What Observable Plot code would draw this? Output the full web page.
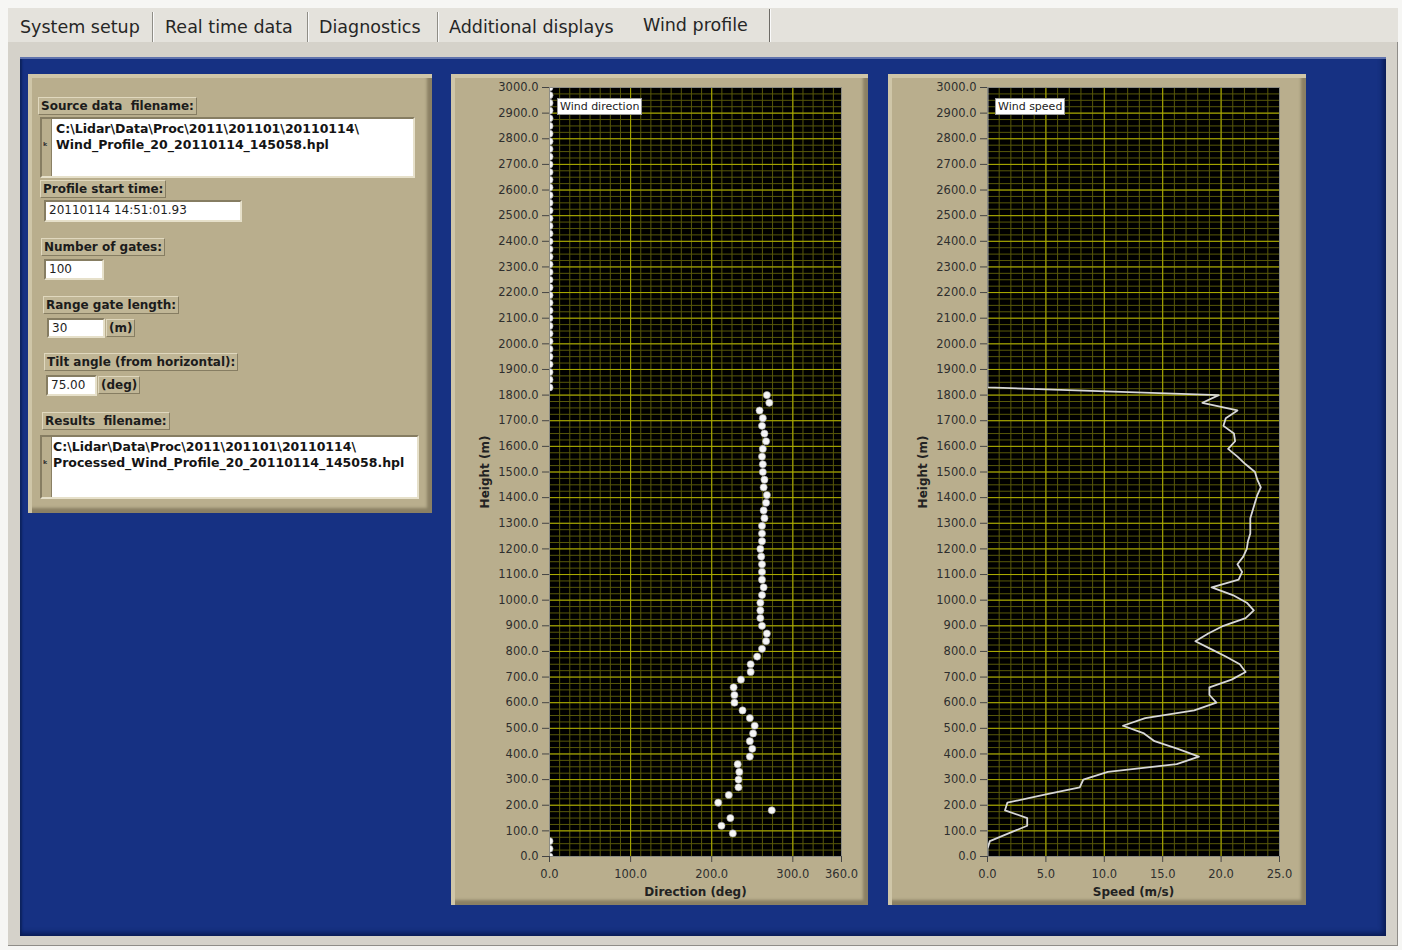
<!DOCTYPE html>
<html><head><meta charset="utf-8">
<script src="https://cdn.jsdelivr.net/npm/d3@7"></script>
<script src="https://cdn.jsdelivr.net/npm/@observablehq/plot@0.6"></script>
<style>
body{margin:0;background:#f6f6f4;font-family:"DejaVu Sans",Verdana,sans-serif;}
#app{position:relative;width:1402px;height:950px;overflow:hidden;}
.abs{position:absolute;}
.tabbar{left:8px;top:8px;width:1390px;height:34px;background:#e4e2dc;}
.tab{position:absolute;top:17px;font-size:17.5px;color:#262626;white-space:nowrap;}
.sep{position:absolute;top:12px;width:1px;height:30px;background:#8f8d86;border-right:1px solid #fafafa;}
.frame{left:8px;top:42px;width:1390px;height:904px;background:#d5d2ca;box-shadow:inset -1px -1px 0 #8f8d88;}
.blue{left:20px;top:57px;width:1366px;height:879px;background:#163183;box-shadow:inset 0 2px 0 #6073ad, inset -3px -3px 5px #0a1c55, inset 2px 0 2px #0e245f;}
.panel{background:#b9ae8d;box-shadow:inset 4px 4px 0 #cfc6a8, inset -5px -5px 3px #8a8064;}
.lbl{position:absolute;font-size:12px;font-weight:bold;color:#1c1c1c;background:#c0b696;border:1px solid;border-color:#e0d8be #867d62 #867d62 #e0d8be;padding:0 2px;height:16px;line-height:16px;white-space:pre;}
.box{position:absolute;background:#fff;border:2px solid;border-color:#867d62 #e6e0ca #e6e0ca #867d62;font-size:12px;color:#1e1e1e;line-height:17px;padding-left:3px;box-sizing:border-box;white-space:pre;}
.path{position:absolute;background:#fff;border:2px solid;border-color:#867d62 #e6e0ca #e6e0ca #867d62;box-sizing:border-box;}
.path .strip{position:absolute;left:0;top:0;bottom:0;width:9px;background:#b9ae8d;border-right:1px solid #8a8064;}
.path .ico{position:absolute;left:1px;font-size:10px;font-weight:bold;color:#333;}
.path .txt{position:absolute;font-size:12.5px;font-weight:bold;color:#141414;line-height:16px;white-space:pre;}
.legend{position:absolute;background:#fff;border:1px solid #9a9a9a;font-size:11px;color:#222;height:15px;line-height:15px;padding:0 2px;white-space:nowrap;}
.chart{position:absolute;}
</style>
</head><body>
<div id="app">
  <div class="abs tabbar"></div>
  <div class="tab" style="left:20px">System setup</div>
  <div class="sep" style="left:152px"></div>
  <div class="tab" style="left:165px">Real time data</div>
  <div class="sep" style="left:307px"></div>
  <div class="tab" style="left:319px">Diagnostics</div>
  <div class="sep" style="left:437px"></div>
  <div class="tab" style="left:449px">Additional displays</div>
  <div class="tab" style="left:643px;top:15px">Wind profile</div>
  <div class="sep" style="left:769px;top:9px;height:34px;background:#6d6b66"></div>

  <div class="abs frame"></div>
  <div class="abs blue"></div>

  <div class="abs panel" style="left:28px;top:74px;width:404px;height:439px"></div>
  <div class="lbl" style="left:38px;top:97px">Source data  filename:</div>
  <div class="path" style="left:40px;top:117px;width:375px;height:61px">
    <div class="strip"></div><div class="ico" style="top:22px">&#x1D4F;</div>
    <div class="txt" style="left:14px;top:2px">C:\Lidar\Data\Proc\2011\201101\20110114\</div>
    <div class="txt" style="left:14px;top:18px">Wind_Profile_20_20110114_145058.hpl</div>
  </div>
  <div class="lbl" style="left:40px;top:180px">Profile start time:</div>
  <div class="box" style="left:44px;top:200px;width:198px;height:22px">20110114 14:51:01.93</div>
  <div class="lbl" style="left:41px;top:238px">Number of gates:</div>
  <div class="box" style="left:44px;top:259px;width:60px;height:21px">100</div>
  <div class="lbl" style="left:43px;top:296px">Range gate length:</div>
  <div class="box" style="left:47px;top:318px;width:58px;height:20px">30</div>
  <div class="lbl" style="left:106px;top:319px">(m)</div>
  <div class="lbl" style="left:44px;top:353px">Tilt angle (from horizontal):</div>
  <div class="box" style="left:46px;top:375px;width:51px;height:21px">75.00</div>
  <div class="lbl" style="left:98px;top:376px">(deg)</div>
  <div class="lbl" style="left:42px;top:412px">Results  filename:</div>
  <div class="path" style="left:40px;top:435px;width:379px;height:64px">
    <div class="strip"></div><div class="ico" style="top:22px">&#x1D4F;</div>
    <div class="txt" style="left:11px;top:2px">C:\Lidar\Data\Proc\2011\201101\20110114\</div>
    <div class="txt" style="left:11px;top:18px">Processed_Wind_Profile_20_20110114_145058.hpl</div>
  </div>

  <div class="abs panel" style="left:451px;top:74px;width:417px;height:831px"></div>
  <div class="abs panel" style="left:888px;top:74px;width:418px;height:831px"></div>
  <div id="dirChart" class="chart" style="left:451px;top:74px"></div>
  <div id="spdChart" class="chart" style="left:888px;top:74px"></div>
  <div class="legend" style="left:557px;top:98px">Wind direction</div>
  <div class="legend" style="left:995px;top:98px">Wind speed</div>
</div>
<script>
// Gate heights (m)
const heights = [0,30,60,90,120,150,180,210,240,270,300,330,360,390,420,450,480,510,540,570,600,630,660,690,720,750,780,810,840,870,900,930,960,990,1020,1050,1080,1110,1140,1170,1200,1230,1260,1290,1320,1350,1380,1410,1440,1470,1500,1530,1560,1590,1620,1650,1680,1710,1740,1770,1800,1830,1860,1890,1920,1950,1980,2010,2040,2070,2100,2130,2160,2190,2220,2250,2280,2310,2340,2370,2400,2430,2460,2490,2520,2550,2580,2610,2640,2670,2700,2730,2760,2790,2820,2850,2880,2910,2940,2970,3000];
// Wind direction (deg)
const direction = [0,0,0,226,212,223,274,208,221,233,233,234,232,247,250,247,251,253,247,238,228,228,227,236,248,248,256,262,267,268,262,260,260,260,262,264,262,262,262,261,260,262,262,262,265,264,267,268,264,265,263,263,262,263,267,265,262,263,259,271,268,0,0,0,0,0,0,0,0,0,0,0,0,0,0,0,0,0,0,0,0,0,0,0,0,0,0,0,0,0,0,0,0,0,0,0,0,0,0,0,0];
// Wind speed (m/s)
const speed = [0,0,0.2,1.8,3.4,3.4,1.5,1.7,4.8,7.9,8.2,10.3,16.2,18.1,16.3,14.3,13.4,11.6,13.5,17.7,19.6,19.0,19.0,20.9,22.1,21.6,20.4,19.1,17.8,18.9,20.2,22.1,22.8,22.2,21.0,19.2,21.5,21.8,21.4,21.9,22.2,22.3,22.5,22.5,22.5,22.7,22.9,23.1,23.4,23.1,22.9,22.1,21.4,20.6,21.2,21.1,20.2,20.4,21.4,18.4,19.8,0,0,0,0,0,0,0,0,0,0,0,0,0,0,0,0,0,0,0,0,0,0,0,0,0,0,0,0,0,0,0,0,0,0,0,0,0,0,0,0];
// Tick labels
const heightTicks = [0,100,200,300,400,500,600,700,800,900,1000,1100,1200,1300,1400,1500,1600,1700,1800,1900,2000,2100,2200,2300,2400,2500,2600,2700,2800,2900,3000];
const directionTicks = [0,100,200,300,360];
const speedTicks = [0,5,10,15,20,25];

const dirData = heights.map((h,i)=>({h, v:direction[i]}));
const spdData = heights.map((h,i)=>({h, v:speed[i]}));

function makeChart({data, domain, ticks, minorStep, majorStep, xLabel, kind, width, marginLeft}) {
  const minorX = d3.range(domain[0], domain[1] + 1e-9, minorStep);
  const majorX = d3.range(domain[0], domain[1] + 1e-9, majorStep);
  const minorY = d3.range(0, 3000.001, 25);
  const majorY = d3.range(0, 3000.001, 100);
  const marks = [
    Plot.frame({fill: "#000"}),
    Plot.ruleX(minorX, {stroke: "#58580a", strokeWidth: 1}),
    Plot.ruleY(minorY, {stroke: "#58580a", strokeWidth: 1}),
    Plot.ruleX(majorX, {stroke: "#adad00", strokeWidth: 1}),
    Plot.ruleY(majorY, {stroke: "#adad00", strokeWidth: 1}),
  ];
  if (kind === "dot") {
    marks.push(Plot.dot(data, {x: "v", y: "h", r: 3.6, fill: "#f6f6f6", stroke: "#a0a0a0", strokeWidth: 0.6, clip: true}));
  } else {
    marks.push(Plot.line(data, {x: "v", y: "h", stroke: "#d8d8d8", strokeWidth: 1.8, clip: true}));
  }
  marks.push(
    Plot.frame({stroke: "#8c8c84", strokeWidth: 1}),
    Plot.axisY({ticks: heightTicks, tickFormat: d => d.toFixed(1), tickSize: 7, tickPadding: 4, fontSize: 11.5, label: null, stroke: "#444"}),
    Plot.axisX({ticks, tickFormat: d => d.toFixed(1), tickSize: 6, tickPadding: 7, fontSize: 11.5, label: null, stroke: "#444"}),
    Plot.text([xLabel], {frameAnchor: "bottom", dy: 39, fontWeight: "bold", fontSize: 12, fill: "#222"}),
    Plot.text(["Height (m)"], {frameAnchor: "left", dx: -64, rotate: -90, textAnchor: "middle", fontWeight: "bold", fontSize: 12, fill: "#222"})
  );
  return Plot.plot({
    width, height: 831,
    marginLeft, marginRight: 27, marginTop: 13, marginBottom: 49,
    x: {domain},
    y: {domain: [0, 3000]},
    style: {background: "transparent", color: "#2e2e2e", fontFamily: "DejaVu Sans, Verdana, sans-serif", fontSize: "11.5px", overflow: "visible"},
    marks
  });
}

document.getElementById("dirChart").append(makeChart({
  data: dirData, domain: [0, 360], ticks: directionTicks, minorStep: 12.5, majorStep: 100,
  xLabel: "Direction (deg)", kind: "dot", width: 417, marginLeft: 98
}));
document.getElementById("spdChart").append(makeChart({
  data: spdData, domain: [0, 25], ticks: speedTicks, minorStep: 1, majorStep: 5,
  xLabel: "Speed (m/s)", kind: "line", width: 418, marginLeft: 99
}));
</script>
</body></html>
